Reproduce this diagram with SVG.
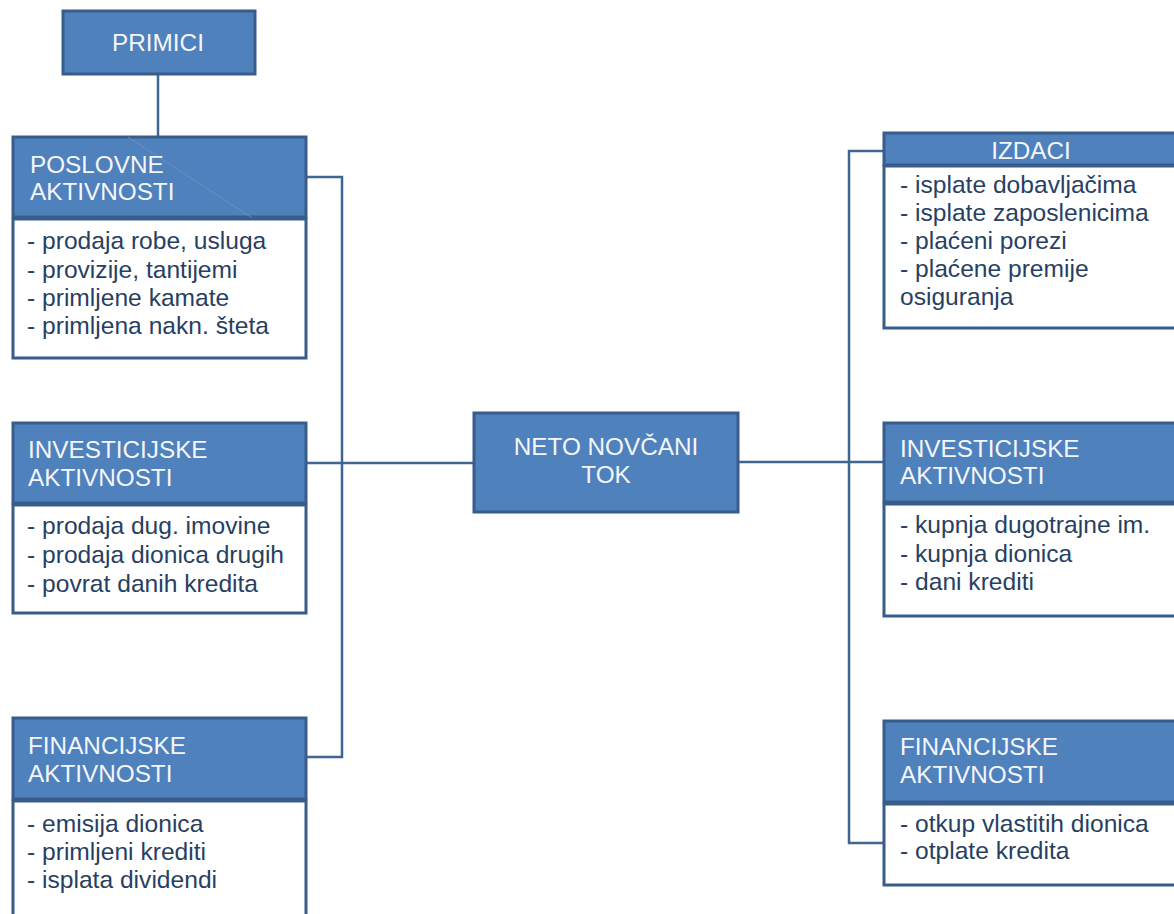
<svg xmlns="http://www.w3.org/2000/svg" width="1174" height="914" viewBox="0 0 1174 914">
<style>
.hd{fill:#4f81bd;stroke:#385d8a;stroke-width:3}
.bd{fill:#ffffff;stroke:#385d8a;stroke-width:3}
.ht{font-family:"Liberation Sans",Arial,sans-serif;font-size:24.3px;fill:#f4f6fa}
.bt{font-family:"Liberation Sans",Arial,sans-serif;font-size:24.6px;fill:#273f62}
.cn{fill:none;stroke:#3f6592;stroke-width:2.5}
</style>
<rect width="1174" height="914" fill="#ffffff"/>
<g id="connectors">
<line class="cn" x1="158" y1="75" x2="158" y2="136"/>
<polyline class="cn" points="306,177 342,177 342,757 306,757"/>
<line class="cn" x1="306" y1="463" x2="474" y2="463"/>
<line class="cn" x1="738" y1="462" x2="884" y2="462"/>
<polyline class="cn" points="884,151 849,151 849,843 884,843"/>
</g>
<g id="primici">
<rect class="hd" x="63" y="11" width="192" height="63"/>
<text class="ht" x="158" y="51" text-anchor="middle">PRIMICI</text>
</g>
<g id="poslovne-l">
<rect class="hd" x="13" y="137" width="293" height="80"/>
<line x1="128" y1="137" x2="260" y2="223" stroke="#6f95c4" stroke-width="1" opacity="0.8"/>
<rect class="bd" x="13" y="219" width="293" height="139"/>
<text class="ht" x="30" y="173">POSLOVNE</text>
<text class="ht" x="30" y="200">AKTIVNOSTI</text>
<text class="bt" x="27" y="249">- prodaja robe, usluga</text>
<text class="bt" x="27" y="278">- provizije, tantijemi</text>
<text class="bt" x="27" y="306">- primljene kamate</text>
<text class="bt" x="27" y="334">- primljena nakn. šteta</text>
</g>
<g id="investicijske-l">
<rect class="hd" x="13" y="423" width="293" height="80"/>
<rect class="bd" x="13" y="505" width="293" height="108"/>
<text class="ht" x="28" y="458">INVESTICIJSKE</text>
<text class="ht" x="28" y="486">AKTIVNOSTI</text>
<text class="bt" x="27" y="534">- prodaja dug. imovine</text>
<text class="bt" x="27" y="563">- prodaja dionica drugih</text>
<text class="bt" x="27" y="592">- povrat danih kredita</text>
</g>
<g id="financijske-l">
<rect class="hd" x="13" y="718" width="293" height="81"/>
<rect class="bd" x="13" y="801" width="293" height="130"/>
<text class="ht" x="28" y="754">FINANCIJSKE</text>
<text class="ht" x="28" y="782">AKTIVNOSTI</text>
<text class="bt" x="27" y="832">- emisija dionica</text>
<text class="bt" x="27" y="860">- primljeni krediti</text>
<text class="bt" x="27" y="888">- isplata dividendi</text>
</g>
<g id="neto">
<rect class="hd" x="474" y="413" width="264" height="99"/>
<text class="ht" x="606" y="455" text-anchor="middle">NETO NOVČANI</text>
<text class="ht" x="606" y="483" text-anchor="middle">TOK</text>
</g>
<g id="izdaci">
<rect class="hd" x="884" y="133" width="300" height="32"/>
<rect class="bd" x="884" y="166" width="300" height="162"/>
<text class="ht" x="1031" y="159" text-anchor="middle">IZDACI</text>
<text class="bt" x="900" y="193">- isplate dobavljačima</text>
<text class="bt" x="900" y="221">- isplate zaposlenicima</text>
<text class="bt" x="900" y="249">- plaćeni porezi</text>
<text class="bt" x="900" y="277">- plaćene premije</text>
<text class="bt" x="900" y="305">osiguranja</text>
</g>
<g id="investicijske-r">
<rect class="hd" x="884" y="423" width="300" height="79"/>
<rect class="bd" x="884" y="504" width="300" height="112"/>
<text class="ht" x="900" y="457">INVESTICIJSKE</text>
<text class="ht" x="900" y="484">AKTIVNOSTI</text>
<text class="bt" x="900" y="533">- kupnja dugotrajne im.</text>
<text class="bt" x="900" y="562">- kupnja dionica</text>
<text class="bt" x="900" y="590">- dani krediti</text>
</g>
<g id="financijske-r">
<rect class="hd" x="884" y="721" width="300" height="81"/>
<rect class="bd" x="884" y="804" width="300" height="81"/>
<text class="ht" x="900" y="755">FINANCIJSKE</text>
<text class="ht" x="900" y="783">AKTIVNOSTI</text>
<text class="bt" x="900" y="832">- otkup vlastitih dionica</text>
<text class="bt" x="900" y="859">- otplate kredita</text>
</g>
</svg>
